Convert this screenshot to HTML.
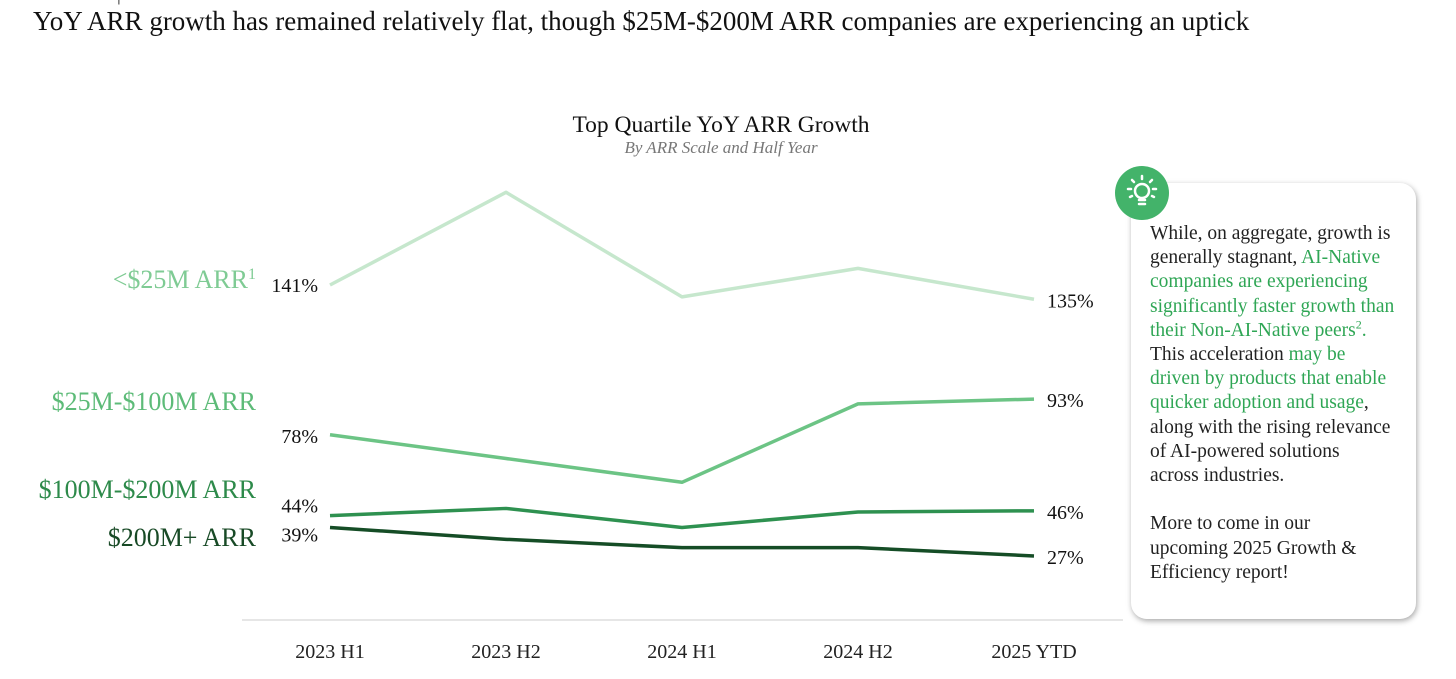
<!DOCTYPE html>
<html><head><meta charset="utf-8"><style>
body{margin:0;width:1456px;height:679px;background:#fff;overflow:hidden;font-family:"Liberation Serif",serif;}
#hd{position:absolute;left:33px;top:6px;font-size:27px;color:#111;white-space:nowrap}
#sup{position:absolute;left:33px;top:-17px;font-size:20px;color:#333}
#box{position:absolute;left:1131px;top:183px;width:285px;height:436px;border-radius:16px;background:#fff;box-shadow:1px 2px 6px rgba(0,0,0,.35);}
#txt{position:absolute;left:1150px;top:222px;width:270px;font-size:19.5px;line-height:24.2px;color:#222;white-space:nowrap}
.g{color:#2fa655}
#icon{position:absolute;left:1115px;top:166px;width:54px;height:54px;border-radius:50%;background:#43b36a;}
</style></head><body>
<div id="sup">Overview | <span style="color:#6cc485">Growth</span></div>
<div id="hd">YoY ARR growth has remained relatively flat, though $25M-$200M ARR companies are experiencing an uptick</div>
<svg id="chart" width="1456" height="679" style="position:absolute;left:0;top:0">
<text x="721" y="132" text-anchor="middle" font-size="23.5" fill="#111" font-family="Liberation Serif">Top Quartile YoY ARR Growth</text>
<text x="721" y="153" text-anchor="middle" font-size="17" font-style="italic" fill="#777" font-family="Liberation Serif">By ARR Scale and Half Year</text>
<line x1="242" y1="620" x2="1123" y2="620" stroke="#ddd" stroke-width="1.5"/>
<g id="g"></g>
</svg>
<div id="box"></div>
<div id="icon">
<svg width="54" height="54"><g stroke="#fff" stroke-width="2.5" stroke-linecap="round" fill="none">
<circle cx="27" cy="25" r="7"/><line x1="24" y1="34" x2="30" y2="34"/><line x1="24" y1="38" x2="30" y2="38"/>
<line x1="27" y1="10" x2="27" y2="13"/><line x1="17" y1="14" x2="19" y2="16"/><line x1="37" y1="14" x2="35" y2="16"/>
<line x1="13" y1="23" x2="16" y2="23"/><line x1="41" y1="23" x2="38" y2="23"/><line x1="15" y1="31" x2="17" y2="30"/><line x1="39" y1="31" x2="37" y2="30"/></g></svg></div>
<div id="txt">While, on aggregate, growth is<br>generally stagnant, <span class="g">AI-Native<br>companies are experiencing<br>significantly faster growth than<br>their Non-AI-Native peers<sup style="font-size:12px;line-height:0">2</sup>.</span><br>This acceleration <span class="g">may be</span><br><span class="g">driven by products that enable<br>quicker adoption and usage</span>,<br>along with the rising relevance<br>of AI-powered solutions<br>across industries.<br><br>More to come in our<br>upcoming 2025 Growth &amp;<br>Efficiency report!</div>
<script>
const categories=["2023 H1","2023 H2","2024 H1","2024 H2","2025 YTD"];
const seriesNames=["<$25M ARR","$25M-$100M ARR","$100M-$200M ARR","$200M+ ARR"];
const s1=[141,180,136,148,135];
const s2=[78,68,58,91,93];
const s3=[44,47,39,45.5,46];
const s4=[39,34,30.5,30.5,27];
const series=[s1,s2,s3,s4];
const colors=["#c6e7cd","#6cc485","#2e9150","#154d26"];
const legendColors=["#7fcb94","#5dbb78","#2d8a4a","#184a26"];
const legendY=[288,410,498,546];
const x=i=>330+i*176;
const y=v=>285+(141-v)*2.377;
const g=document.getElementById('g');const NS="http://www.w3.org/2000/svg";
function mk(t,a){const e=document.createElementNS(NS,t);for(const k in a)e.setAttribute(k,a[k]);g.appendChild(e);return e;}
categories.forEach((c,i)=>{const t=mk('text',{x:x(i),y:658,'text-anchor':'middle','font-size':20,fill:'#222','font-family':'Liberation Serif'});t.textContent=c;

});
series.forEach((s,k)=>{
const p=mk('polyline',{points:s.map((v,i)=>x(i)+','+y(v)).join(' '),fill:'none',stroke:colors[k],'stroke-width':3.5,'stroke-linejoin':'round'});


const a=mk('text',{x:318,y:y(s[0])+7,'text-anchor':'end','font-size':20,fill:'#111','font-family':'Liberation Serif'});a.textContent=Math.round(s[0])+'%';
if(k==1)a.setAttribute('y',y(s[0])+8);
if(k==2)a.setAttribute('y',y(s[0])-3);
if(k==3)a.setAttribute('y',y(s[0])+14);


const last=s[s.length-1];
const b=mk('text',{x:1047,y:y(last)+8,'font-size':20,fill:'#111','font-family':'Liberation Serif'});b.textContent=Math.round(last)+'%';


const l=mk('text',{x:256,y:legendY[k],'text-anchor':'end','font-size':26,fill:legendColors[k],'font-family':'Liberation Serif'});l.textContent=seriesNames[k];
if(k==0){const sp=document.createElementNS(NS,'tspan');sp.setAttribute('font-size','16');sp.setAttribute('dy','-9');sp.textContent='1';l.appendChild(sp);}


});
</script>
</body></html>
